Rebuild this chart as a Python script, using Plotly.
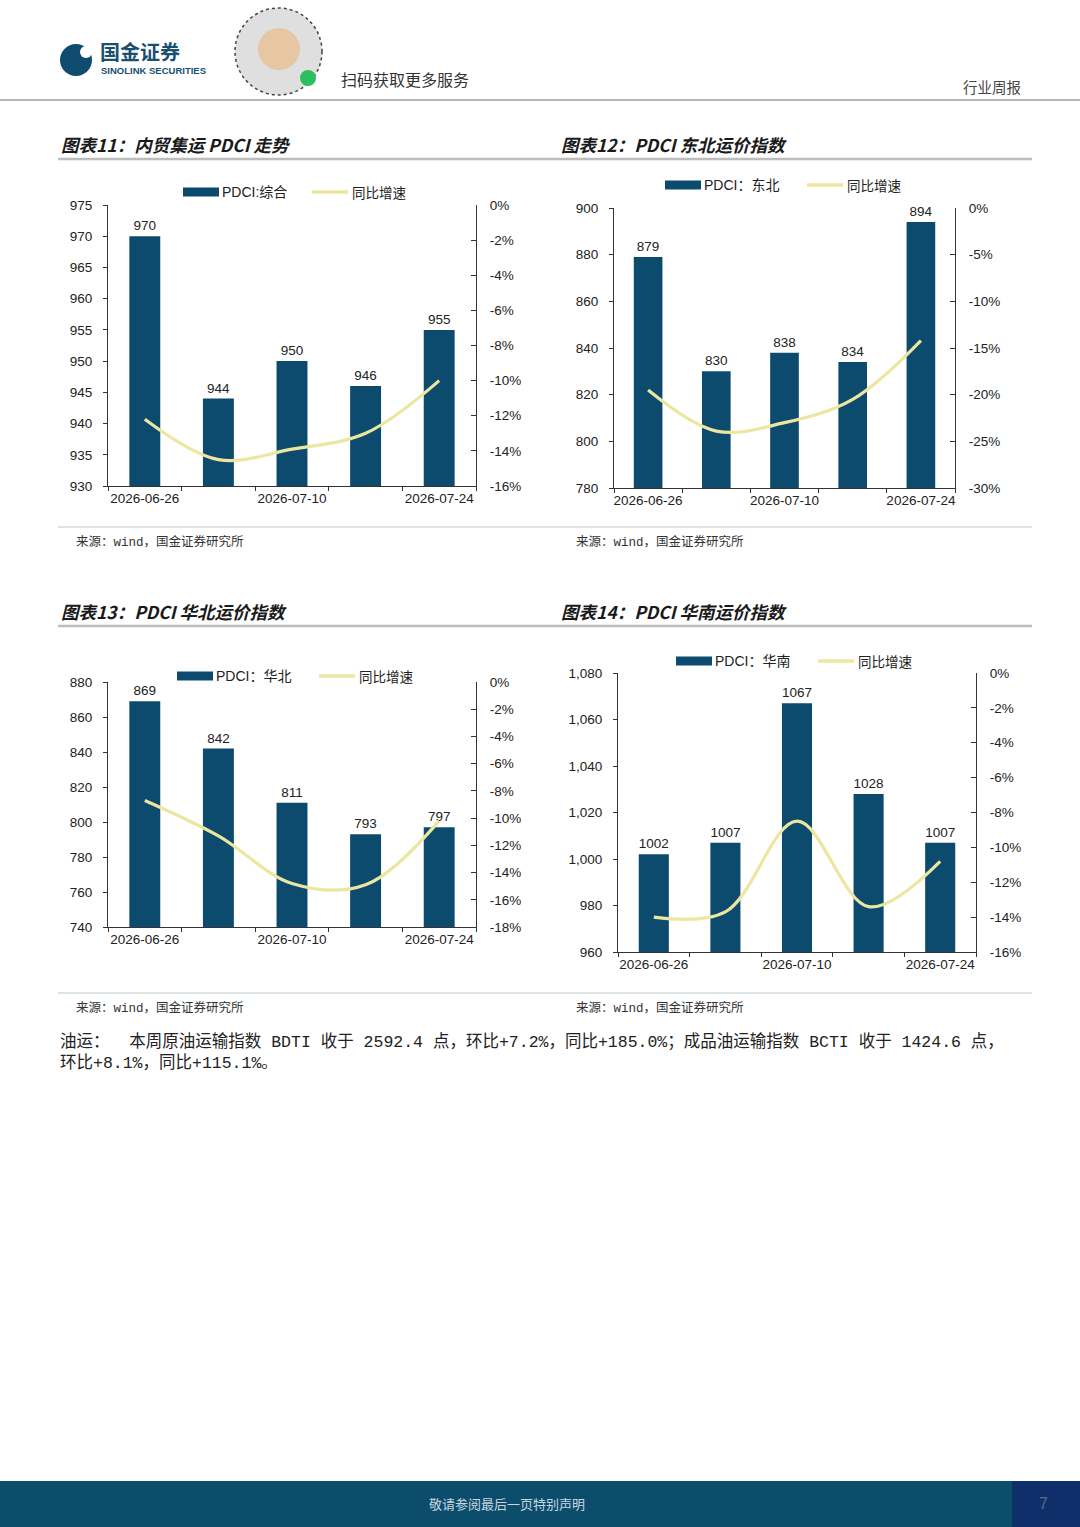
import plotly.graph_objects as go

W, H = 1080, 1527

dates = ["2026-06-26", "2026-07-03", "2026-07-10", "2026-07-17", "2026-07-24"]
shown_dates = ["2026-06-26", "", "2026-07-10", "", "2026-07-24"]

titles = ["图表11：内贸集运 PDCI 走势", "图表12：PDCI 东北运价指数",
          "图表13：PDCI 华北运价指数", "图表14：PDCI 华南运价指数"]
bar_names = ["PDCI:综合", "PDCI：东北", "PDCI：华北", "PDCI：华南"]
line_name = "同比增速"
source_text = "来源：wind，国金证券研究所"

# PDCI index values and yoy growth (%)
pdci_total = [970, 944, 950, 946, 955]
yoy_total = [-12.2, -14.5, -13.9, -13.0, -10.0]
pdci_ne = [879, 830, 838, 834, 894]
yoy_ne = [-19.5, -23.9, -23.0, -20.5, -14.2]
pdci_nc = [869, 842, 811, 793, 797]
yoy_nc = [-8.7, -11.3, -14.8, -14.9, -10.2]
pdci_sc = [1002, 1007, 1067, 1028, 1007]
yoy_sc = [-14.0, -13.7, -8.5, -13.4, -10.8]

left_ticks_1 = [930, 935, 940, 945, 950, 955, 960, 965, 970, 975]
right_ticks_1 = [0, -2, -4, -6, -8, -10, -12, -14, -16]
left_ticks_2 = [780, 800, 820, 840, 860, 880, 900]
right_ticks_2 = [0, -5, -10, -15, -20, -25, -30]
left_ticks_3 = [740, 760, 780, 800, 820, 840, 860, 880]
right_ticks_3 = [0, -2, -4, -6, -8, -10, -12, -14, -16, -18]
left_ticks_4 = [960, 980, 1000, 1020, 1040, 1060, 1080]
right_ticks_4 = [0, -2, -4, -6, -8, -10, -12, -14, -16]

BAR = "#0D4B6E"
LINE = "#EDE6A1"
AX = "#333333"
NUM_FONT = "Liberation Sans, Arial, Noto Sans CJK SC"
CJK_FONT = "Noto Sans CJK SC, Liberation Sans"
MONO_CJK = "Liberation Mono, Noto Sans CJK SC"


def px(x):
    return x / W


def py(y):
    return 1 - y / H


charts = [
    dict(bars=pdci_total, yoy=yoy_total, lt=left_ticks_1, rt=right_ticks_1,
         box=(108, 476, 205, 486), leg=(183, 192), fmt="d"),
    dict(bars=pdci_ne, yoy=yoy_ne, lt=left_ticks_2, rt=right_ticks_2,
         box=(614, 955, 208, 488), leg=(665, 185), fmt="d"),
    dict(bars=pdci_nc, yoy=yoy_nc, lt=left_ticks_3, rt=right_ticks_3,
         box=(108, 476, 682, 927), leg=(177, 676), fmt="d"),
    dict(bars=pdci_sc, yoy=yoy_sc, lt=left_ticks_4, rt=right_ticks_4,
         box=(618, 976, 673, 952), leg=(676, 661), fmt=",d"),
]

fig = go.Figure()
shapes = []
annotations = []
layout = {}

for i, c in enumerate(charts):
    k = i + 1
    xa = "x" if k == 1 else f"x{k}"
    yl = f"y{2 * k - 1}" if k > 1 else "y"
    yr = f"y{2 * k}"
    x0, x1, yt, yb = c["box"]

    fig.add_trace(go.Bar(
        x=dates, y=c["bars"], xaxis=xa, yaxis=yl, name=bar_names[i],
        marker=dict(color=BAR, line=dict(width=0)), width=0.42,
        text=c["bars"], textposition="outside", textangle=0,
        constraintext="none", cliponaxis=False,
        textfont=dict(family=NUM_FONT, size=13.5, color="#222222"),
    ))
    fig.add_trace(go.Scatter(
        x=dates, y=c["yoy"], xaxis=xa, yaxis=yr, name=line_name,
        mode="lines", line=dict(color=LINE, width=3.2, shape="spline", smoothing=1),
        cliponaxis=False,
    ))

    xkey = "xaxis" if k == 1 else f"xaxis{k}"
    ylkey = "yaxis" if k == 1 else f"yaxis{2 * k - 1}"
    yrkey = f"yaxis{2 * k}"
    tickfont = dict(family=NUM_FONT, size=13.5, color="#222222")
    layout[xkey] = dict(
        domain=[px(x0), px(x1)], anchor=yl, type="category", range=[-0.5, 4.5],
        showline=True, linecolor=AX, linewidth=1.2, ticks="outside", ticklen=4,
        tickcolor=AX, tickson="boundaries", tickmode="array", tickvals=dates,
        ticktext=shown_dates, tickangle=0, tickfont=tickfont, showgrid=False,
        zeroline=False, automargin=False,
    )
    layout[ylkey] = dict(
        domain=[py(yb), py(yt)], anchor=xa, range=[c["lt"][0], c["lt"][-1]],
        tickmode="array", tickvals=c["lt"], tickformat=c["fmt"],
        showline=True, linecolor=AX, linewidth=1.2, ticks="outside", ticklen=4,
        tickcolor=AX, tickfont=tickfont, showgrid=False, zeroline=False,
        ticklabelstandoff=8, automargin=False,
    )
    layout[yrkey] = dict(
        overlaying=yl, side="right", anchor=xa,
        range=[c["rt"][-1], c["rt"][0]], tickmode="array", tickvals=c["rt"],
        ticktext=[f"{v}%" for v in c["rt"]],
        showline=True, linecolor=AX, linewidth=1.2, ticks="inside", ticklen=5,
        tickcolor=AX, tickfont=tickfont, showgrid=False, zeroline=False,
        ticklabelstandoff=10, automargin=False,
    )

    # legend (drawn by hand: wide bar swatch + line swatch)
    lx, ly = c["leg"]
    shapes.append(dict(type="rect", xref="paper", yref="paper",
                       x0=px(lx), x1=px(lx + 36), y0=py(ly + 4.5), y1=py(ly - 4.5),
                       fillcolor=BAR, line=dict(width=0)))
    annotations.append(dict(x=px(lx + 37), y=py(ly), text=bar_names[i], xanchor="left",
                            font=dict(family=NUM_FONT, size=14, color="#222222")))
    lx2 = lx + 129 if k == 1 else lx + 142
    shapes.append(dict(type="line", xref="paper", yref="paper",
                       x0=px(lx2), x1=px(lx2 + 36), y0=py(ly), y1=py(ly),
                       line=dict(color=LINE, width=3.5)))
    annotations.append(dict(x=px(lx2 + 38), y=py(ly), text=line_name, xanchor="left",
                            font=dict(family=CJK_FONT, size=13.5, color="#222222")))

# chart titles, rules and sources
for i, (tx, ty, src_rule_y) in enumerate([(59, 145, 527), (559, 145, 527),
                                           (59, 611, 993), (559, 611, 993)]):
    annotations.append(dict(x=px(tx), y=py(ty), text=f"<b><i>{titles[i]}</i></b>",
                            xanchor="left",
                            font=dict(family=CJK_FONT, size=17.5, color="#1a1a1a")))
    annotations.append(dict(x=px(tx + 15), y=py(src_rule_y + 15), text=source_text,
                            xanchor="left",
                            font=dict(family=MONO_CJK, size=12.5, color="#333333")))

for ry in (159, 626):
    shapes.append(dict(type="line", xref="paper", yref="paper", x0=px(58), x1=px(1032),
                       y0=py(ry), y1=py(ry), line=dict(color="#BDBDBD", width=2.5)))
for ry in (527, 993):
    shapes.append(dict(type="line", xref="paper", yref="paper", x0=px(58), x1=px(1032),
                       y0=py(ry), y1=py(ry), line=dict(color="#B9CFCB", width=1)))

# body text
para_1 = "油运：  本周原油运输指数 BDTI 收于 2592.4 点，环比+7.2%，同比+185.0%；成品油运输指数 BCTI 收于 1424.6 点，"
para_2 = "环比+8.1%，同比+115.1%。"
for t, yy in ((para_1, 1042), (para_2, 1063)):
    annotations.append(dict(x=px(58), y=py(yy), text=t, xanchor="left",
                            font=dict(family=MONO_CJK, size=16.5, color="#222222")))

# page header
shapes.append(dict(type="line", xref="paper", yref="paper", x0=0, x1=1, y0=py(100), y1=py(100),
                   line=dict(color="#9E9E9E", width=1.5)))
shapes.append(dict(type="circle", xref="paper", yref="paper", x0=px(60), x1=px(92),
                   y0=py(76), y1=py(44), fillcolor="#0F4C6E", line=dict(width=0)))
shapes.append(dict(type="circle", xref="paper", yref="paper", x0=px(80), x1=px(92),
                   y0=py(58), y1=py(46), fillcolor="white", line=dict(width=0)))
shapes.append(dict(type="circle", xref="paper", yref="paper", x0=px(235), x1=px(322),
                   y0=py(95), y1=py(8), fillcolor="rgba(150,150,150,0.3)",
                   line=dict(color="#444444", width=1.5, dash="dot")))
shapes.append(dict(type="circle", xref="paper", yref="paper", x0=px(258), x1=px(300),
                   y0=py(70), y1=py(28), fillcolor="#E6C7A2", line=dict(width=0)))
shapes.append(dict(type="circle", xref="paper", yref="paper", x0=px(300), x1=px(316),
                   y0=py(86), y1=py(70), fillcolor="#2DBE60", line=dict(width=0)))
annotations += [
    dict(x=px(98), y=py(51), text="<b>国金证券</b>", xanchor="left",
         font=dict(family=CJK_FONT, size=20, color="#1A4F72")),
    dict(x=px(99), y=py(71), text="<b>SINOLINK SECURITIES</b>", xanchor="left",
         font=dict(family=NUM_FONT, size=9.5, color="#1A4F72")),
    dict(x=px(339), y=py(79), text="扫码获取更多服务", xanchor="left",
         font=dict(family=CJK_FONT, size=16, color="#333333")),
    dict(x=px(1023), y=py(87), text="行业周报", xanchor="right",
         font=dict(family=CJK_FONT, size=14.5, color="#444444")),
]

# page footer
shapes.append(dict(type="rect", xref="paper", yref="paper", x0=0, x1=1, y0=0, y1=py(1481),
                   fillcolor="#0B4D6B", line=dict(width=0), layer="below"))
shapes.append(dict(type="rect", xref="paper", yref="paper", x0=px(1012), x1=1, y0=0, y1=py(1481),
                   fillcolor="#0E2F6A", line=dict(width=0), layer="below"))
annotations += [
    dict(x=px(507), y=py(1503), text="敬请参阅最后一页特别声明",
         font=dict(family=CJK_FONT, size=13, color="#C8D6E0")),
    dict(x=px(1050), y=py(1503), text="7",
         font=dict(family=NUM_FONT, size=16, color="#5B6B80")),
]

for a in annotations:
    a.setdefault("xref", "paper")
    a.setdefault("yref", "paper")
    a.setdefault("showarrow", False)
    a.setdefault("yanchor", "middle")

fig.update_layout(
    template="none",
    width=W, height=H, margin=dict(l=0, r=0, t=0, b=0, pad=0), autosize=False,
    paper_bgcolor="white", plot_bgcolor="white", showlegend=False,
    shapes=shapes, annotations=annotations, **layout,
)

fig.write_html("out.html", config={"displayModeBar": False},
               post_script="document.body.style.margin='0';")
